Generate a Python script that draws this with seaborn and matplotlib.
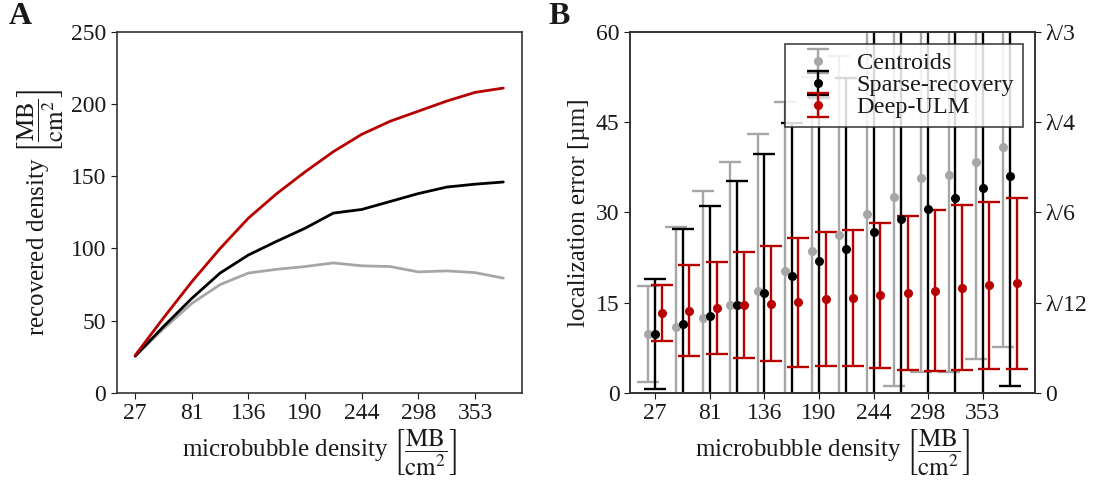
import numpy as np
import pandas as pd
import matplotlib.pyplot as plt
import seaborn as sns

# microbubble densities [MB/cm^2]
density = np.round(27.13 * np.arange(1, 15), 1)
tick_labels = ['27', '81', '136', '190', '244', '298', '353']
methods = ['Centroids', 'Sparse-recovery', 'Deep-ULM']

# panel A: recovered density
rec_centroids = [25.5, 44.5, 62, 75, 83, 85.6, 87.5, 90, 88, 87.5, 83.8, 84.5, 83.3, 79.5]
rec_sparse = [25.5, 46, 65.5, 83, 95.5, 105, 114, 124.5, 127, 132.5, 138, 142.5, 144.5, 146]
rec_deep = [26, 52, 77, 100, 121, 138, 153, 167, 179, 188, 195, 202, 208, 211]

# panel B: localization error, mean and std [um]
err_centroids = [9.8, 10.9, 12.4, 14.6, 16.9, 20.2, 23.5, 26.2, 29.7, 32.6, 35.7, 36.2, 38.4, 40.9]
std_centroids = [8.0, 16.7, 21.2, 23.7, 26.1, 28.1, 29.0, 29.8, 31.0, 31.4, 32.2, 32.7, 32.75, 33.2]
err_sparse = [9.8, 11.5, 12.8, 14.6, 16.6, 19.4, 22.0, 23.9, 26.8, 28.9, 30.5, 32.4, 34.1, 36.0]
std_sparse = [9.1, 15.8, 18.3, 20.6, 23.1, 25.4, 27.0, 28.4, 33.5, 34.5, 34.6, 34.7, 34.8, 34.8]
err_deep = [13.3, 13.7, 14.1, 14.6, 14.85, 15.1, 15.6, 15.8, 16.2, 16.6, 17.0, 17.5, 17.9, 18.2]
std_deep = [4.6, 7.55, 7.7, 8.8, 9.5, 10.7, 11.15, 11.35, 12.05, 12.8, 13.4, 13.7, 13.85, 14.25]

colors = {'Centroids': '#a6a6a6', 'Sparse-recovery': '#000000', 'Deep-ULM': '#b80000'}

sns.set_style('ticks')
plt.rcParams['font.family'] = ['Liberation Serif', 'DejaVu Serif']
plt.rcParams['mathtext.fontset'] = 'stix'
plt.rcParams['font.size'] = 17
plt.rcParams['text.color'] = '#1a1a1a'
plt.rcParams['axes.labelcolor'] = '#1a1a1a'
plt.rcParams['xtick.color'] = '#1a1a1a'
plt.rcParams['ytick.color'] = '#1a1a1a'
plt.rcParams['axes.edgecolor'] = '#333333'
plt.rcParams['axes.linewidth'] = 1.2
plt.rcParams['xtick.direction'] = 'out'
plt.rcParams['ytick.direction'] = 'out'
plt.rcParams['xtick.major.size'] = 4
plt.rcParams['ytick.major.size'] = 4

fig = plt.figure(figsize=(10.94, 4.84), dpi=100)
axA = fig.add_axes([0.1067, 0.188, 0.3702, 0.7465])
axB = fig.add_axes([0.5759, 0.188, 0.3702, 0.7465])

unit = r'$\left[\dfrac{\mathrm{MB}}{\mathrm{cm}^2}\right]$'

# ---- A ----
dfA = pd.DataFrame({
    'density': np.tile(density, 3),
    'recovered': rec_centroids + rec_sparse + rec_deep,
    'method': np.repeat(methods, len(density)),
})
sns.lineplot(data=dfA, x='density', y='recovered', hue='method', palette=colors,
             linewidth=2, legend=False, ax=axA)
axA.set_ylim(0, 250)
axA.set_yticks(range(0, 251, 50))
axA.set_xticks(density[::2])
axA.set_xticklabels(tick_labels)
axA.set_xlabel('microbubble density ' + unit, fontsize=18, labelpad=2)
axA.set_ylabel('recovered density ' + unit, fontsize=18, labelpad=4)

# ---- B ----
offsets = {'Centroids': -6.7, 'Sparse-recovery': 0.0, 'Deep-ULM': 6.7}
means = {'Centroids': err_centroids, 'Sparse-recovery': err_sparse, 'Deep-ULM': err_deep}
stds = {'Centroids': std_centroids, 'Sparse-recovery': std_sparse, 'Deep-ULM': std_deep}
for m in methods:
    axB.errorbar(density + offsets[m], means[m], yerr=stds[m], fmt='o', ms=5.5,
                 color=colors[m], ecolor=colors[m], elinewidth=1.7, capsize=8,
                 capthick=1.7, label=m)
axB.set_ylim(0, 60)
axB.set_yticks(range(0, 61, 15))
axB.set_xticks(density[::2])
axB.set_xticklabels(tick_labels)
axB.set_xlabel('microbubble density ' + unit, fontsize=18, labelpad=2)
axB.set_ylabel('localization error [µm]', fontsize=18, labelpad=4)
leg = axB.legend(loc='upper right', fontsize=17.5, labelspacing=0.0, fancybox=False,
                 edgecolor='#222222', framealpha=0.85, borderaxespad=0.5,
                 handletextpad=0.6, borderpad=0.35)
leg.get_frame().set_linewidth(1.2)

axR = axB.twinx()
axR.set_ylim(0, 60)
axR.set_yticks(range(0, 61, 15))
axR.set_yticklabels(['0', 'λ/12', 'λ/6', 'λ/4', 'λ/3'])

fig.text(0.008, 0.995, 'A', fontsize=23, fontweight='bold', va='top')
fig.text(0.501, 0.995, 'B', fontsize=23, fontweight='bold', va='top')

fig.savefig('out.png', dpi=100)
